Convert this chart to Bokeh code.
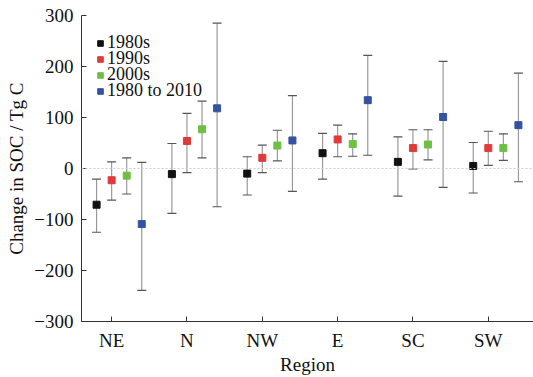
from bokeh.plotting import figure
from bokeh.models import (ColumnDataSource, FixedTicker, Span, Legend, LegendItem)
from bokeh.embed import file_html
from bokeh.resources import INLINE

# Regional change in soil organic carbon (Tg C), mean with uncertainty range
regions = ["NE", "N", "NW", "E", "SC", "SW"]

mean_1980s = [-71, -11, -10, 30, 13, 5]
low_1980s = [-125, -88, -52, -21, -54, -48]
high_1980s = [-21, 49, 23, 69, 62, 51]

mean_1990s = [-23, 54, 21, 57, 40, 40]
low_1990s = [-62, -8, -8, 23, -1, 6]
high_1990s = [13, 108, 46, 85, 76, 73]

mean_2000s = [-14, 77, 45, 48, 47, 40]
low_2000s = [-50, 21, 15, 24, 17, 16]
high_2000s = [21, 132, 75, 68, 76, 68]

mean_total = [-109, 118, 55, 134, 101, 85]
low_total = [-239, -75, -45, 26, -37, -26]
high_total = [12, 285, 143, 222, 210, 187]

series_names = ["1980s", "1990s", "2000s", "1980 to 2010"]
y_ticks = [-300, -200, -100, 0, 100, 200, 300]

FONT = "Liberation Serif"
WEIGHT = "normal"
TEXT_COLOR = "#111111"

p = figure(width=533, height=377, x_range=(0.6, 6.6), y_range=(-300, 300),
           output_backend="svg", toolbar_location=None,
           min_border_left=81, min_border_right=0, min_border_top=15,
           min_border_bottom=51)
p.outline_line_color = None
p.xgrid.visible = False
p.ygrid.visible = False
p.background_fill_color = "white"
p.border_fill_color = "white"

# dotted zero reference line
p.add_layout(Span(location=0, dimension="width", line_color="#cccccc",
                  line_dash="2 2", line_width=1.2))

series = [
    (mean_1980s, low_1980s, high_1980s, "#111111", -0.2),
    (mean_1990s, low_1990s, high_1990s, "#e03a3a", 0.0),
    (mean_2000s, low_2000s, high_2000s, "#6fbf45", 0.2),
    (mean_total, low_total, high_total, "#3452a0", 0.4),
]

# one single-entry legend per series, stacked in a tight column
LEGEND_ROW = 16
legend_top_y = 268
for k, (name, (means, lows, highs, color, offset)) in enumerate(zip(series_names, series)):
    xs = [i + 1 + offset for i in range(len(regions))]
    src = ColumnDataSource(dict(x=xs, y=means, lo=lows, hi=highs))
    p.segment(x0="x", y0="lo", x1="x", y1="hi", source=src,
              line_color="#9a9a9a", line_width=1.2)
    p.scatter(x="x", y="lo", source=src, marker="dash", size=9,
              line_color="#555555", line_width=1.2)
    p.scatter(x="x", y="hi", source=src, marker="dash", size=9,
              line_color="#555555", line_width=1.2)
    r = p.scatter(x="x", y="y", source=src, marker="square", size=7,
                  fill_color=color, line_color=color)
    leg = Legend(items=[LegendItem(label=name, renderers=[r])],
                 location=(12, legend_top_y - k * LEGEND_ROW),
                 glyph_width=14, glyph_height=16, label_standoff=0,
                 padding=0, margin=0, border_line_color=None,
                 background_fill_alpha=0, label_text_font=FONT,
                 label_text_font_size="18px", label_text_font_style=WEIGHT,
                 label_text_color=TEXT_COLOR)
    p.add_layout(leg)

# axes
p.xaxis.ticker = FixedTicker(ticks=list(range(1, len(regions) + 1)))
p.xaxis.major_label_overrides = {i + 1: r for i, r in enumerate(regions)}
p.yaxis.ticker = FixedTicker(ticks=y_ticks)
p.yaxis.major_label_overrides = {t: (str(t).replace("-", "\u2212")) for t in y_ticks}
p.xaxis.minor_tick_line_color = None
p.yaxis.minor_tick_line_color = None
for ax in (p.xaxis[0], p.yaxis[0]):
    ax.major_tick_in = 5
    ax.major_tick_out = 0
    ax.axis_line_color = "#333333"
    ax.major_tick_line_color = "#333333"
    ax.major_label_text_font = FONT
    ax.major_label_text_font_size = "19px"
    ax.major_label_text_font_style = WEIGHT
    ax.major_label_text_color = TEXT_COLOR
    ax.axis_label_text_font = FONT
    ax.axis_label_text_font_size = "19px"
    ax.axis_label_text_font_style = WEIGHT
    ax.axis_label_text_color = TEXT_COLOR
p.xaxis.axis_label = "Region"
p.yaxis.axis_label = "Change in SOC / Tg C"
p.xaxis.major_label_standoff = 8
p.yaxis.major_label_standoff = 8
p.xaxis.axis_label_standoff = 0
p.yaxis.axis_label_standoff = 4

open("out.html", "w").write(file_html(p, INLINE))
